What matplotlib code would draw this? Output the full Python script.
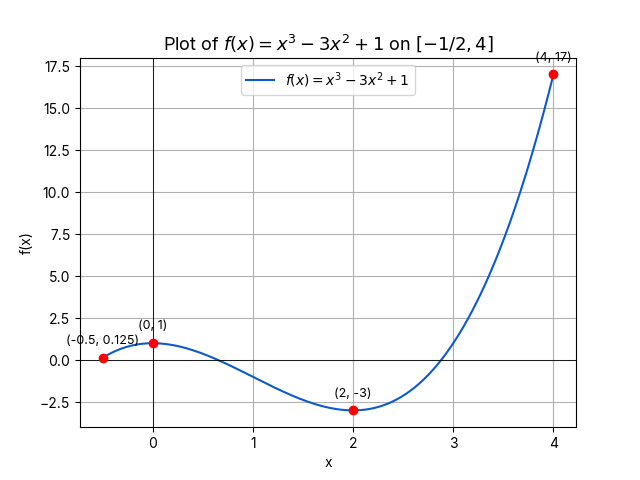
import numpy as np
import matplotlib
matplotlib.use("Agg")
import matplotlib.pyplot as plt

plt.rcParams['font.family'] = ['Inter', 'DejaVu Sans']

x_min, x_max = -0.5, 4
pts_x = [-0.5, 0, 2, 4]
pts_y = [0.125, 1, -3, 17]
pts_labels = ["(-0.5, 0.125)", "(0, 1)", "(2, -3)", "(4, 17)"]

x = np.linspace(x_min, x_max, 400)
y = x**3 - 3*x**2 + 1

fig, ax = plt.subplots(figsize=(6.4, 4.8), dpi=100)
ax.plot(x, y, color='#0a5bd0', label=r'$f(x) = x^3 - 3x^2 + 1$')
ax.axhline(0, color='black', linewidth=0.6)
ax.axvline(0, color='black', linewidth=0.6)
ax.plot(pts_x, pts_y, 'o', color='red', zorder=5)
for px, py, lab in zip(pts_x, pts_y, pts_labels):
    ax.annotate(lab, (px, py), textcoords='offset points', xytext=(0, 10), ha='center', fontsize=9)
ax.set_title(r'Plot of $f(x) = x^3 - 3x^2 + 1$ on $[-1/2, 4]$', fontsize=13)
ax.set_xlabel('x')
ax.set_ylabel('f(x)')
ax.grid(True)
ax.legend(loc='upper center')
fig.savefig('out.png')
